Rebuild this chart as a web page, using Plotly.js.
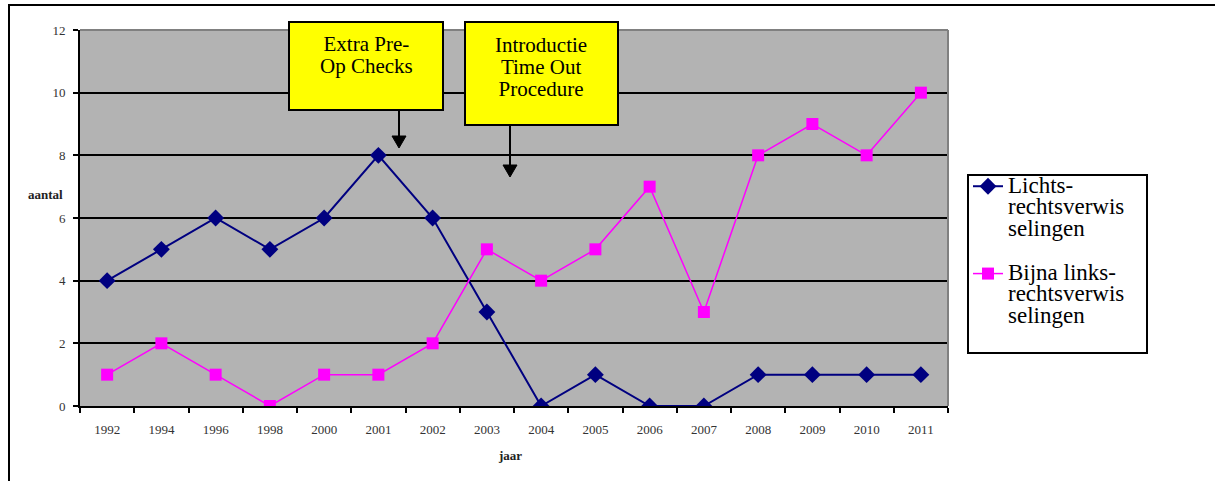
<!DOCTYPE html>
<html>
<head>
<meta charset="utf-8">
<script src="https://cdn.plot.ly/plotly-3.0.1.min.js"></script>
<style>
  html, body { margin: 0; padding: 0; background: #ffffff; }
  #chart { width: 1215px; height: 481px; }
</style>
</head>
<body>
<div id="chart"></div>
<script>
// Years on the category axis
const jaren = ['1992', '1994', '1996', '1998', '2000', '2001', '2002', '2003',
               '2004', '2005', '2006', '2007', '2008', '2009', '2010', '2011'];

// Number of left-right mix-ups per year
const verwisselingen = [4, 5, 6, 5, 6, 8, 6, 3, 0, 1, 0, 0, 1, 1, 1, 1];

// Number of near misses per year
const bijnaVerwisselingen = [1, 2, 1, 0, 1, 1, 2, 5, 4, 5, 7, 3, 8, 9, 8, 10];

const yTicks = [0, 2, 4, 6, 8, 10, 12];

// Series names and callout texts, one entry per line
const naamVerwisselingen = ['Lichts-', 'rechtsverwis', 'selingen'];
const naamBijna = ['Bijna links-', 'rechtsverwis', 'selingen'];
const callout1 = ['Extra Pre-', 'Op Checks'];
const callout2 = ['Introductie', 'Time Out', 'Procedure'];

// Plot-area geometry in pixels
const W = 1215, H = 481;
const M = { l: 80, r: W - 948, t: 30, b: H - 406 };
const PW = W - M.l - M.r, PH = H - M.t - M.b;
const px = x => (x - M.l) / PW;          // pixel x -> paper x
const py = y => (H - M.b - y) / PH;      // pixel y -> paper y

const serif = "'Liberation Serif', 'Times New Roman', Times, serif";

// Larger glyphs on a tighter line pitch than the base font gives
const bigLines = (lines, size) =>
  lines.map(s => `<span style="font-size:${size}px">${s}</span>`).join('<br>');

const traces = [
  {
    x: jaren, y: verwisselingen,
    name: bigLines(naamVerwisselingen, 23),
    type: 'scatter', mode: 'lines+markers',
    line: { color: '#000080', width: 2 },
    marker: { symbol: 'diamond', size: 13, color: '#000080' },
    legendgroup: 'a'
  },
  {
    x: jaren, y: bijnaVerwisselingen,
    name: bigLines(naamBijna, 23),
    type: 'scatter', mode: 'lines+markers',
    line: { color: '#FF00FF', width: 1.5 },
    marker: { symbol: 'square', size: 12, color: '#FF00FF' },
    legendgroup: 'b'
  }
];

// Callout boxes with arrows
function calloutBox(x0, x1, y0, y1) {
  return {
    type: 'rect', xref: 'paper', yref: 'paper', layer: 'above',
    x0: px(x0), x1: px(x1), y0: py(y1), y1: py(y0),
    fillcolor: '#FFFF00', line: { color: '#000000', width: 2 }
  };
}
function arrowLine(x, y0, y1) {
  return {
    type: 'line', xref: 'paper', yref: 'paper', layer: 'above',
    x0: px(x), x1: px(x), y0: py(y0), y1: py(y1 - 10),
    line: { color: '#000000', width: 2 }
  };
}
function arrowHead(x, y) {
  const p = `M ${px(x - 7)} ${py(y - 12)} L ${px(x + 7)} ${py(y - 12)} L ${px(x)} ${py(y)} Z`;
  return {
    type: 'path', xref: 'paper', yref: 'paper', layer: 'above',
    path: p, fillcolor: '#000000', line: { color: '#000000', width: 1 }
  };
}

const shapes = [
  // outer frame
  { type: 'rect', xref: 'paper', yref: 'paper', layer: 'below',
    x0: px(9), x1: px(1230), y0: py(495), y1: py(5),
    fillcolor: 'rgba(0,0,0,0)', line: { color: '#000000', width: 2 } },
  // legend frame
  { type: 'rect', xref: 'paper', yref: 'paper', layer: 'below',
    x0: px(968), x1: px(1147), y0: py(353), y1: py(175),
    fillcolor: '#ffffff', line: { color: '#000000', width: 2 } },
  // grey top and right edges of the plot area
  { type: 'line', xref: 'paper', yref: 'paper', layer: 'above',
    x0: 0, x1: 1, y0: 1, y1: 1, line: { color: '#808080', width: 2 } },
  { type: 'line', xref: 'paper', yref: 'paper', layer: 'above',
    x0: 1, x1: 1, y0: 0, y1: 1, line: { color: '#808080', width: 2 } },
  calloutBox(289, 443, 22, 110),
  calloutBox(465, 618, 22, 125),
  arrowLine(399, 110, 148),
  arrowHead(399, 148),
  arrowLine(510, 125, 177),
  arrowHead(510, 177)
];

const annotations = [
  { xref: 'paper', yref: 'paper', x: px(366), y: py(30), xanchor: 'center', yanchor: 'top',
    text: bigLines(callout1, 21), showarrow: false, align: 'center',
    font: { family: serif, size: 17, color: '#000000' } },
  { xref: 'paper', yref: 'paper', x: px(541), y: py(31), xanchor: 'center', yanchor: 'top',
    text: bigLines(callout2, 21), showarrow: false, align: 'center',
    font: { family: serif, size: 17, color: '#000000' } },
  { xref: 'paper', yref: 'paper', x: px(45), y: py(194), xanchor: 'center', yanchor: 'middle',
    text: '<b>aantal</b>', showarrow: false,
    font: { family: serif, size: 13, color: '#222222' } },
  { xref: 'paper', yref: 'paper', x: px(510), y: py(456), xanchor: 'center', yanchor: 'middle',
    text: '<b>jaar</b>', showarrow: false,
    font: { family: serif, size: 13, color: '#222222' } }
];

const layout = {
  width: W, height: H,
  margin: M,
  paper_bgcolor: '#ffffff',
  plot_bgcolor: '#B3B3B3',
  font: { family: serif },
  showlegend: true,
  legend: {
    x: px(968), y: py(169), xanchor: 'left', yanchor: 'top',
    bgcolor: 'rgba(0,0,0,0)', borderwidth: 0,
    font: { family: serif, size: 16.5, color: '#000000' },
    traceorder: 'grouped', tracegroupgap: 20,
    valign: 'top',
    itemwidth: 30
  },
  xaxis: {
    type: 'category',
    range: [-0.5, jaren.length - 0.5],
    showgrid: false,
    showline: true, linecolor: '#000000', linewidth: 2,
    ticks: 'outside', ticklen: 5, tickwidth: 2, tickcolor: '#000000',
    tickson: 'boundaries',
    tickfont: { family: serif, size: 13, color: '#333333' },
    ticklabelstandoff: 10,
    fixedrange: true
  },
  yaxis: {
    range: [0, 12],
    tickvals: yTicks,
    showgrid: true, gridcolor: '#000000', gridwidth: 2,
    zeroline: false,
    showline: true, linecolor: '#000000', linewidth: 2,
    ticks: 'outside', ticklen: 5, tickwidth: 2, tickcolor: '#000000',
    tickfont: { family: serif, size: 13, color: '#333333' },
    ticklabelstandoff: 5,
    fixedrange: true
  },
  shapes: shapes,
  annotations: annotations
};

Plotly.newPlot('chart', traces, layout, { displayModeBar: false, staticPlot: true });
</script>
</body>
</html>
